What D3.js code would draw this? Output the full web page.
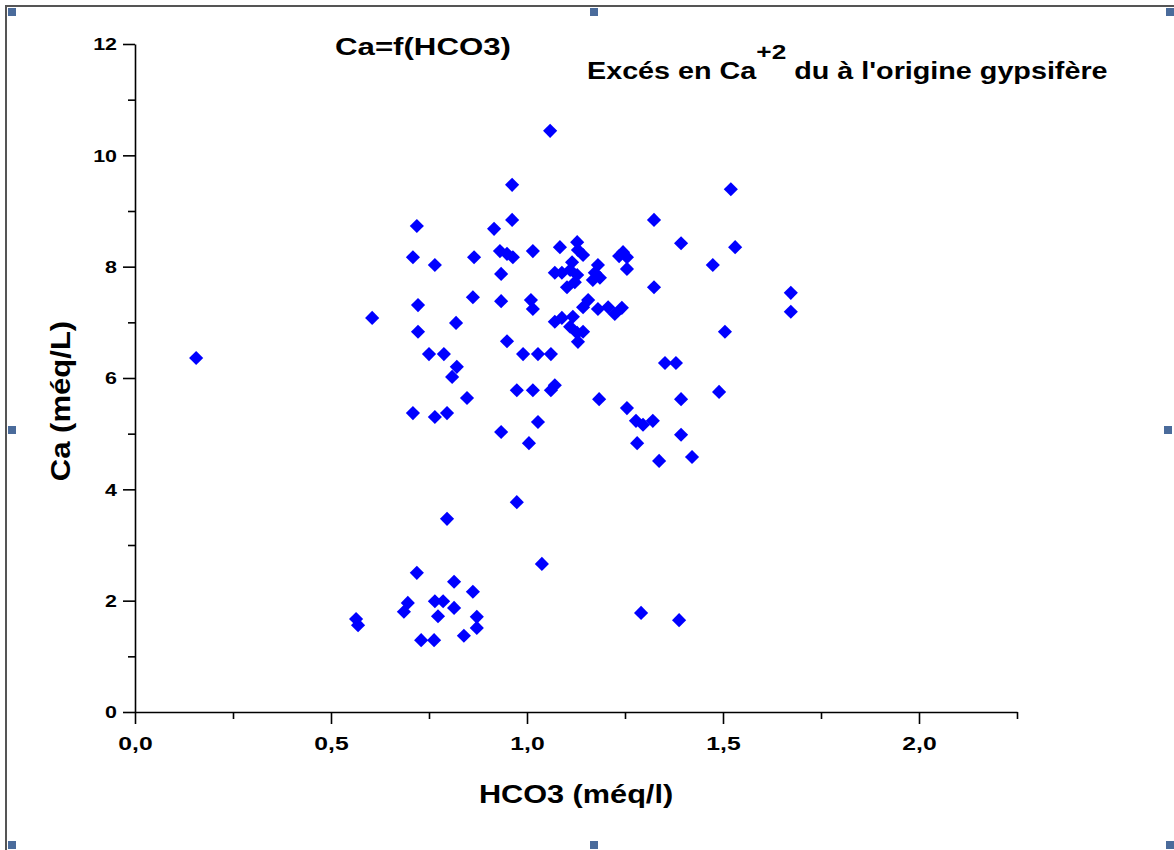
<!DOCTYPE html>
<html>
<head>
<meta charset="utf-8">
<script src="https://cdn.jsdelivr.net/npm/d3@7"></script>
<style>
  html, body { margin: 0; padding: 0; background: #fff; }
  svg { display: block; }
  text { font-family: "Liberation Sans", Arial, sans-serif; font-weight: bold; fill: #000; }
</style>
</head>
<body>
<svg id="chart" width="1174" height="850"></svg>
<script>
// ---- data ----
const hco3 = [
  0.156, 0.605, 1.059, 0.962, 0.719, 0.962, 0.916, 0.709, 0.765, 0.865,
  0.931, 0.949, 0.964, 1.015, 0.934, 1.084, 0.862, 0.934, 1.010, 1.015,
  0.722, 0.722, 0.819, 0.949, 0.750, 0.788, 0.990, 1.028, 1.061, 0.821,
  0.809, 0.974, 1.015, 1.061, 1.071, 0.847, 1.490, 1.184, 1.393, 1.255,
  0.709, 0.765, 0.796, 1.028, 1.278, 1.296, 1.321, 0.934, 1.005, 1.281,
  1.393, 1.337, 1.421, 0.974, 0.796, 1.038, 0.719, 0.814, 0.862, 0.696,
  0.686, 0.765, 0.786, 0.814, 0.773, 0.872, 0.872, 0.564, 0.569, 0.730,
  0.763, 0.839, 1.291, 1.388, 1.520, 1.324, 1.393, 1.531, 1.474, 1.324,
  1.673, 1.673, 1.505, 1.352, 1.380,
  1.128, 1.130, 1.143, 1.115, 1.071, 1.089, 1.110, 1.128, 1.122, 1.102,
  1.181, 1.173, 1.168, 1.186, 1.245, 1.255, 1.235, 1.255, 1.156, 1.143,
  1.181, 1.207, 1.224, 1.242, 1.071, 1.089, 1.117, 1.110, 1.128, 1.143,
  1.130
];
const ca = [
  6.36, 7.08, 10.44, 9.47, 8.73, 8.84, 8.68, 8.17, 8.03, 8.17,
  8.28, 8.23, 8.17, 8.28, 7.87, 8.35, 7.45, 7.38, 7.40, 7.24,
  7.31, 6.83, 6.99, 6.66, 6.43, 6.43, 6.43, 6.43, 6.43, 6.20,
  6.02, 5.78, 5.78, 5.78, 5.87, 5.64, 5.75, 5.62, 5.62, 5.46,
  5.37, 5.30, 5.37, 5.21, 5.23, 5.16, 5.23, 5.03, 4.83, 4.83,
  4.98, 4.51, 4.58, 3.77, 3.47, 2.66, 2.50, 2.34, 2.16, 1.96,
  1.80, 1.99, 1.99, 1.87, 1.72, 1.71, 1.51, 1.67, 1.56, 1.29,
  1.29, 1.37, 1.78, 1.65, 9.39, 8.84, 8.42, 8.35, 8.03, 7.63,
  7.53, 7.19, 6.83, 6.27, 6.27,
  8.44, 8.30, 8.21, 8.08, 7.89, 7.89, 7.94, 7.85, 7.72, 7.63,
  8.03, 7.89, 7.76, 7.80, 8.26, 8.17, 8.19, 7.96, 7.40, 7.27,
  7.24, 7.27, 7.15, 7.26, 7.01, 7.08, 7.10, 6.92, 6.81, 6.83,
  6.65
];
const xMajorTicks = [0, 0.5, 1.0, 1.5, 2.0];
const xMinorTicks = [0.25, 0.75, 1.25, 1.75, 2.25];
const yMajorTicks = [0, 2, 4, 6, 8, 10, 12];
const yMinorTicks = [1, 3, 5, 7, 9, 11];
const xDomain = [0, 2.25];
const yDomain = [0, 12];
const chartTitle = "Ca=f(HCO3)";
const noteMain = "Excés en Ca";
const noteSup = "+2";
const noteRest = " du à l'origine gypsifère";
const xTitle = "HCO3 (méq/l)";
const yTitle = "Ca (méq/L)";

// ---- drawing ----
const svg = d3.select("#chart");
const pLeft = 135, pRight = 1017, pTop = 44, pBottom = 712;
const x = d3.scaleLinear().domain(xDomain).range([pLeft, pRight]);
const y = d3.scaleLinear().domain(yDomain).range([pBottom, pTop]);
const fmtX = v => d3.format(".1f")(v).replace(".", ",");
const stretch = 1.3;

// frame lines & handles
svg.append("line").attr("x1", 6).attr("x2", 6).attr("y1", 5).attr("y2", 850)
  .attr("stroke", "#555").attr("stroke-width", 2);
svg.append("line").attr("x1", 5).attr("x2", 1174).attr("y1", 6).attr("y2", 6)
  .attr("stroke", "#555").attr("stroke-width", 2);
const handles = [[12,12],[594,12],[1170,12],[12,430],[1168,430],[12,845],[594,845],[1170,845]];
svg.selectAll("rect.handle").data(handles).enter().append("rect")
  .attr("class", "handle")
  .attr("x", d => d[0] - 4).attr("y", d => d[1] - 4)
  .attr("width", 8).attr("height", 8).attr("fill", "#4a6b9b");

// x axis
const gx = svg.append("g").attr("transform", `translate(0,${pBottom})`);
gx.call(d3.axisBottom(x).tickValues(xMajorTicks).tickFormat(fmtX).tickSize(12).tickSizeOuter(0).tickPadding(8));
gx.append("g").call(d3.axisBottom(x).tickValues(xMinorTicks).tickFormat("").tickSize(7).tickSizeOuter(0))
  .select(".domain").remove();
gx.selectAll("path.domain").attr("stroke", "#000").attr("stroke-width", 1.6);
gx.selectAll("line").attr("stroke", "#000").attr("stroke-width", 1.6);
gx.selectAll(".tick text").attr("font-size", 19).attr("font-family", null).attr("font-weight", "bold")
  .attr("y", 0).attr("dy", null)
  .attr("transform", `translate(0,38) scale(${stretch},1)`);

// y axis
const gy = svg.append("g").attr("transform", `translate(${pLeft},0)`);
gy.call(d3.axisLeft(y).tickValues(yMajorTicks).tickFormat(d3.format("d")).tickSize(12).tickSizeOuter(0).tickPadding(8));
gy.append("g").call(d3.axisLeft(y).tickValues(yMinorTicks).tickFormat("").tickSize(7).tickSizeOuter(0))
  .select(".domain").remove();
gy.selectAll("path.domain").attr("stroke", "#000").attr("stroke-width", 1.6);
gy.selectAll("line").attr("stroke", "#000").attr("stroke-width", 1.6);
gy.selectAll(".tick text").attr("font-size", 16.5).attr("font-family", null).attr("font-weight", "bold")
  .attr("x", 0).attr("dy", "0.36em")
  .attr("transform", `translate(-18,0) scale(${stretch},1)`);

// points
const pts = hco3.map((v, i) => ({ x: v, y: ca[i] }));
const sym = d3.symbol().type(d3.symbolSquare).size(100);
svg.append("g").selectAll("path").data(pts).enter().append("path")
  .attr("d", sym)
  .attr("transform", d => `translate(${x(d.x)},${y(d.y)}) rotate(45)`)
  .attr("fill", "#0000ff");

// titles
svg.append("text").attr("transform", "translate(335,55) scale(1.3,1)").attr("font-size", 24)
  .text(chartTitle);

const note = svg.append("text").attr("transform", `translate(587,79) scale(1.25,1)`).attr("font-size", 23);
note.append("tspan").text(noteMain);
note.append("tspan").attr("dy", -20).attr("font-size", 21).text(noteSup);
note.append("tspan").attr("dy", 20).text(noteRest);

svg.append("text").attr("transform", "translate(576,803) scale(1.18,1)").attr("text-anchor", "middle")
  .attr("font-size", 26).text(xTitle);

svg.append("text").attr("transform", "translate(70,401) rotate(-90) scale(1.15,1)").attr("text-anchor", "middle")
  .attr("font-size", 27).text(yTitle);
</script>
</body>
</html>
